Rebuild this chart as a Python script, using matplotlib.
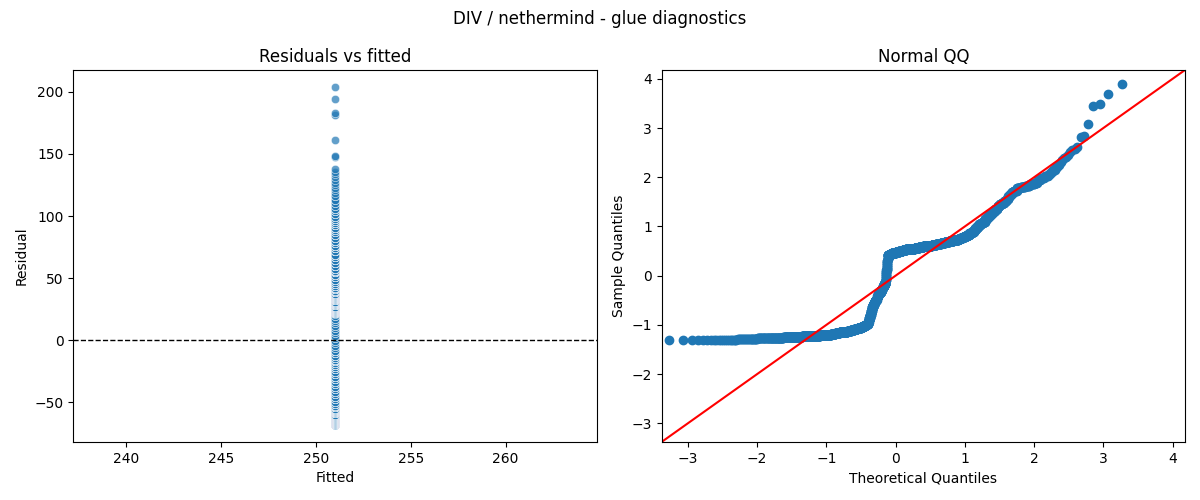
import numpy as np
import matplotlib
matplotlib.use("Agg")
import matplotlib.pyplot as plt
import seaborn as sns
from statistics import NormalDist

# ---- data ----
fitted_value = 251.0

# sorted residual values and how many observations share each value
resid_values = [
    -68.3, -67.8, -67.3,
    -66.8, -66.2, -65.6,
    -65.1, -64.6, -64.0, -63.5,
    -63.0, -62.2, -61.4, -60.6,
    -59.8, -58.9, -58.0, -57.0, -56.0,
    -55.0, -53.8, -52.6, -51.4,
    -49.5, -47.5, -45.5, -43.5, -41.5, -39.5, -37.5, -35.5, -33.5,
    -31.5, -29.5, -27.5, -25.5, -23.5, -21.5,
    -20.0, -18.5, -17.0, -15.8,
    -14.5, -12.5, -10.5, -8.5,
    -6.5, -4.5, -2.5, -0.5, 1.5, 3.5, 5.5, 7.5, 9.5, 11.5, 13.5, 15.5, 17.5, 19.5, 21.5,
    22.3, 23.0, 23.8, 24.6,
    25.3, 26.2, 27.1,
    28.0, 28.8, 29.6, 30.4,
    31.2, 32.1, 33.0, 33.9,
    34.8, 35.7, 36.6, 37.5,
    38.6, 39.8, 41.0,
    42.3, 43.7, 45.1,
    46.8, 48.8, 50.8, 52.8, 54.8, 56.0,
    57.5, 60.0, 62.5, 65.0, 67.3,
    69.0, 71.5, 74.0,
    76.0, 78.0, 80.0,
    82.0, 84.5, 87.0, 89.0,
    90.5, 93.0,
    94.8, 96.0, 97.3,
    99.0, 101.5, 104.0, 106.0,
    108.0, 110.5, 113.0, 116.0,
    118.5, 121.0, 123.0, 125.0, 127.0,
    129.0, 131.5, 133.5, 135.5, 137.5,
    147.7, 148.7, 161.2, 181.0, 183.0, 194.0, 204.0,
]
resid_counts = [
    20, 12, 10,
    25, 30, 27,
    40, 45, 45, 41,
    30, 32, 32, 32,
    30, 30, 30, 30, 32,
    20, 18, 16, 14,
    6, 6, 5, 5, 5, 5, 5, 5, 6,
    9, 10, 10, 10, 9, 9,
    9, 9, 9, 9,
    8, 8, 10, 11,
    2, 2, 2, 2, 2, 2, 2, 2, 2, 2, 2, 2, 2, 2, 1,
    20, 20, 21, 21,
    36, 37, 37,
    45, 45, 44, 44,
    40, 40, 41, 41,
    34, 34, 34, 35,
    16, 16, 15,
    14, 14, 15,
    10, 10, 10, 10, 10, 9,
    9, 9, 9, 8, 8,
    9, 9, 8,
    8, 7, 7,
    5, 5, 5, 4,
    8, 8,
    9, 8, 8,
    4, 4, 4, 4,
    2, 2, 2, 2,
    1, 1, 1, 1, 1,
    1, 1, 1, 1, 1,
    1, 1, 1, 1, 1, 1, 1,
]

title = "DIV / nethermind - glue diagnostics"
qq_limits = (-3.38, 4.18)

# ---- derived ----
residuals = np.repeat(np.array(resid_values), np.array(resid_counts))
fitted = np.full(residuals.size, fitted_value)
n = residuals.size
sample_q = np.sort((residuals - residuals.mean()) / residuals.std())
nd = NormalDist()
theor_q = np.array([nd.inv_cdf(i / (n + 1)) for i in range(1, n + 1)])

# ---- figure ----
fig, (ax1, ax2) = plt.subplots(1, 2, figsize=(12, 5), dpi=100)
fig.subplots_adjust(left=0.061, right=0.9875, top=0.86, bottom=0.116, wspace=0.124)

sns.scatterplot(x=fitted, y=residuals, ax=ax1, alpha=0.7)
ax1.axhline(0, color="black", linestyle="--", linewidth=1)
ax1.set_title("Residuals vs fitted")
ax1.set_xlabel("Fitted")
ax1.set_ylabel("Residual")

ax2.plot(theor_q, sample_q, marker="o", linestyle="none",
         markerfacecolor="C0", markeredgecolor="C0")
ax2.set_xlim(qq_limits)
ax2.set_ylim(qq_limits)
ax2.axline((0, 0), slope=1, color="red")
ax2.set_title("Normal QQ")
ax2.set_xlabel("Theoretical Quantiles")
ax2.set_ylabel("Sample Quantiles")

fig.suptitle(title)
fig.savefig("out.png", dpi=100)
